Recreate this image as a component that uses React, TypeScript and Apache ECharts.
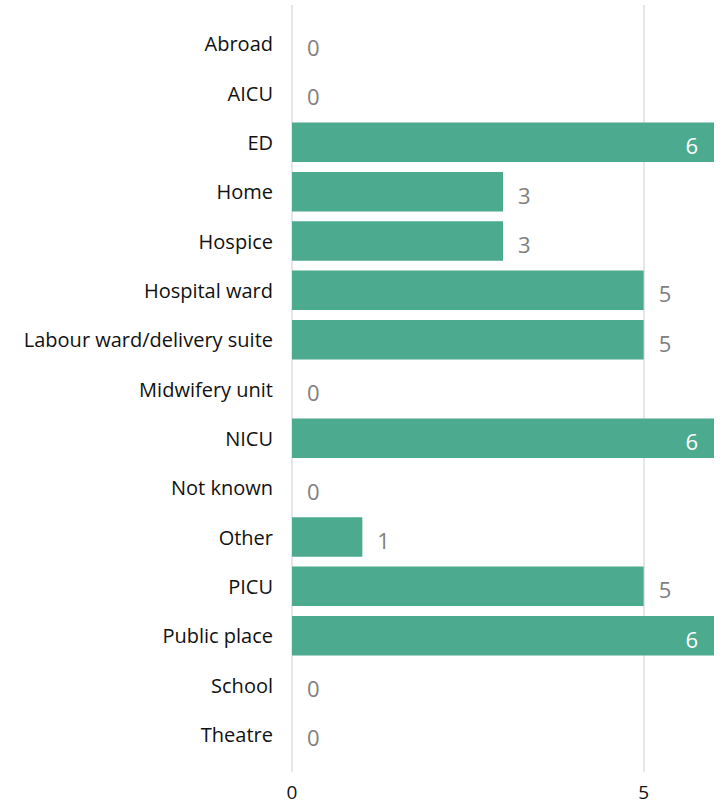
import React, { useEffect, useRef } from "react";
import * as echarts from "echarts";

const categories = [
  "Abroad",
  "AICU",
  "ED",
  "Home",
  "Hospice",
  "Hospital ward",
  "Labour ward/delivery suite",
  "Midwifery unit",
  "NICU",
  "Not known",
  "Other",
  "PICU",
  "Public place",
  "School",
  "Theatre",
];
const values = [0, 0, 6, 3, 3, 5, 5, 0, 6, 0, 1, 5, 6, 0, 0];
const axisMax = 6;
const tickInterval = 5;

const FONT = "'Open Sans', 'Noto Sans', sans-serif";

export default function App() {
  const ref = useRef<HTMLDivElement>(null);
  useEffect(() => {
    if (!ref.current) return;
    const chart = echarts.init(ref.current, undefined, { renderer: "svg" });
    const data = values.map((v) => {
      const inside = v === axisMax;
      return {
        value: v,
        label: inside
          ? { position: "insideRight", color: "#ffffff", distance: 16 }
          : { position: "right", color: "#808080", distance: 15 },
      };
    });
    chart.setOption({
      animation: false,
      grid: [
        { left: 292, right: 7, top: 19, bottom: 45 },
        { left: 292, right: 7, top: 5, bottom: 32 },
      ],
      xAxis: [
        {
          gridIndex: 0,
          type: "value",
          min: 0,
          max: axisMax,
          interval: tickInterval,
          show: false,
          splitLine: { show: false },
        },
        {
          gridIndex: 1,
          type: "value",
          min: 0,
          max: axisMax,
          interval: tickInterval,
          axisLine: { show: false },
          axisTick: { show: false },
          splitLine: {
            show: true,
            showMaxLine: false,
            lineStyle: { color: "#e6e6e6", width: 2 },
          },
          axisLabel: {
            color: "#111111",
            fontSize: 19,
            lineHeight: 19,
            fontFamily: FONT,
            margin: 10,
            showMaxLabel: false,
          },
        },
      ],
      yAxis: [
        {
          gridIndex: 0,
          type: "category",
          data: categories,
          inverse: true,
          axisLine: { show: false },
          axisTick: { show: false },
          splitLine: { show: false },
          axisLabel: {
            color: "#111111",
            fontSize: 20,
            fontFamily: FONT,
            margin: 19,
          },
        },
        {
          gridIndex: 1,
          type: "category",
          data: categories,
          inverse: true,
          show: false,
        },
      ],
      series: [
        {
          type: "bar",
          xAxisIndex: 0,
          yAxisIndex: 0,
          data,
          barCategoryGap: "20%",
          itemStyle: { color: "#4CAA8E" },
          label: {
            show: true,
            fontSize: 22,
            fontFamily: FONT,
            offset: [0, 3],
          },
        },
      ],
    });
    return () => chart.dispose();
  }, []);
  return <div ref={ref} style={{ width: 721, height: 804, position: "absolute", left: 0, top: 0 }} />;
}
